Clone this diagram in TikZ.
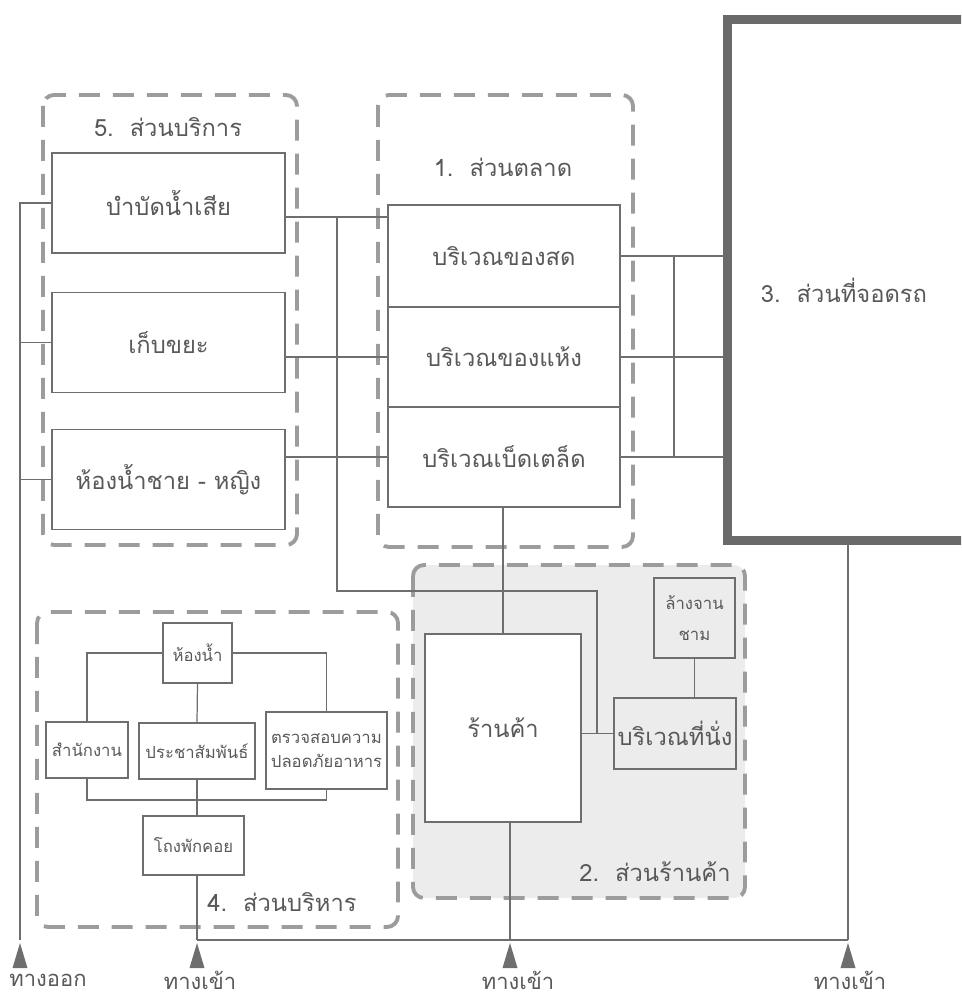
\documentclass[tikz,border=0pt]{standalone}
\usepackage{fontspec}
\usepackage{xcolor}
\usepackage{tikz}
\usetikzlibrary{positioning}
\newfontfamily\thaifont[Script=Thai]{Loma}
\definecolor{linegray}{HTML}{6E6E6E}
\definecolor{dashgray}{HTML}{9C9C9C}
\definecolor{textgray}{HTML}{595959}
\definecolor{parkgray}{HTML}{6A6A6A}
\definecolor{shopfill}{HTML}{ECECEC}

\begin{document}
\begin{tikzpicture}[
    x=0.02cm, y=-0.02cm,
    every node/.style={font=\thaifont, text=textgray},
    zone/.style={draw=dashgray, line width=2.2pt, rounded corners=0.22cm, dash pattern=on 0.42cm off 0.26cm},
    zonetitle/.style={font=\thaifont\fontsize{13.5}{16}\selectfont},
    room/.style={rectangle, draw=linegray, line width=0.7pt, fill=white, minimum width=4.66cm, minimum height=2cm, align=center, inner sep=1pt, font=\thaifont\fontsize{13.5}{16}\selectfont},
    office/.style={rectangle, draw=linegray, line width=0.7pt, align=center, inner sep=1pt, font=\thaifont\fontsize{9.5}{14}\selectfont},
    parkbox/.style={rectangle, draw=parkgray, line width=0.18cm, minimum width=5.42cm, minimum height=10.44cm},
    conn/.style={draw=linegray, line width=0.7pt},
    gate/.style={inner sep=0pt, font=\thaifont\fontsize{12.5}{14}\selectfont},
]
\useasboundingbox (0,0) rectangle (961,1000);
\clip (0,0) rectangle (961,1000);

% 5. service wing
\draw[zone] (43,95) rectangle (297,545);
\node[zonetitle] (svctitle) at (168,127) {5.\ \ ส่วนบริการ};
\node[room] (bambat) at (168.5,203) {บำบัดน้ำเสีย};
\node[room, below=0.76cm of bambat] (kepkhaya) {เก็บขยะ};
\node[room, below=0.72cm of kepkhaya] (hongnamchai) {ห้องน้ำชาย - หญิง};

% 1. market
\draw[zone] (378,95) rectangle (633,547);
\node[zonetitle] (mkttitle) at (503,167) {1.\ \ ส่วนตลาด};
\node[room, minimum width=4.64cm, minimum height=2.04cm, outer sep=0pt] (sot) at (504,256) {บริเวณของสด};
\node[room, minimum width=4.64cm, outer sep=0pt, below=0pt of sot] (haeng) {บริเวณของแห้ง};
\node[room, minimum width=4.64cm, outer sep=0pt, below=0pt of haeng] (betlet) {บริเวณเบ็ดเตล็ด};

% 3. parking, runs off the right edge
\node[parkbox] (parking) at (862.5,280) {};
\node[zonetitle] (parktitle) at (844,290) {3.\ \ ส่วนที่จอดรถ};

% 2. shops
\draw[zone, fill=shopfill] (413,565) rectangle (745,898);
\node[room, minimum width=3.12cm, minimum height=3.76cm] (rankha) at (503,728) {ร้านค้า};
\node[office, fill=shopfill, minimum width=1.62cm, minimum height=1.6cm, font=\thaifont\fontsize{9.5}{18}\selectfont] (langjan) at (694.5,618) {ล้างจาน\\ชาม};
\node[room, fill=shopfill, minimum width=2.44cm, minimum height=1.42cm] (thinang) at (675,733.5) {บริเวณที่นั่ง};
\node[zonetitle] (shoptitle) at (655,872) {2.\ \ ส่วนร้านค้า};

% 4. administration
\draw[zone] (37,612) rectangle (398,927);
\node[office, minimum width=1.38cm, minimum height=1.2cm] (hongnam) at (197.5,653) {ห้องน้ำ};
\node[office, minimum width=1.64cm, minimum height=1.12cm] (samnakngan) at (87,750) {สำนักงาน};
\node[office, minimum width=2.32cm, minimum height=1.12cm] (prachasamphan) at (197,751) {ประชาสัมพันธ์};
\node[office, minimum width=2.42cm, minimum height=1.54cm] (truat) at (326.5,750.5) {ตรวจสอบความ\\ปลอดภัยอาหาร};
\node[office, minimum width=2.02cm, minimum height=1.18cm] (thong) at (193.5,845.5) {โถงพักคอย};
\node[zonetitle] (admintitle) at (282,902) {4.\ \ ส่วนบริหาร};

% gates
\coordinate (exit) at (20,940);
\coordinate (entry1) at (197,940);
\coordinate (entry2) at (510,940);
\coordinate (entry3) at (848,940);
\coordinate (wbus) at (337,217);
\coordinate (sbus) at (597,591);
\coordinate (rbus) at (674,256);
\coordinate (adminbus) at (197,800);

% links
\draw[conn] (bambat.west) -| (exit);
\draw[conn] (kepkhaya.west) -- (kepkhaya.west -| exit);
\draw[conn] (hongnamchai.west) -- (hongnamchai.west -| exit);
\draw[conn] ([yshift=-0.28cm]bambat.east) -- ([yshift=-0.28cm]bambat.east -| sot.west);
\draw[conn] (haeng.west -| kepkhaya.east) -- (haeng.west);
\draw[conn] (betlet.west -| hongnamchai.east) -- (betlet.west);
\draw[conn] (wbus) |- (sbus) -- (sbus |- thinang.west);
\draw[conn] (sot.east) -- (sot.east -| parking.west);
\draw[conn] (haeng.east) -- (haeng.east -| parking.west);
\draw[conn] (betlet.east) -- (betlet.east -| parking.west);
\draw[conn] (rbus) -- (rbus |- betlet.east);
\draw[conn] (rankha.north |- betlet.south) -- (rankha.north);
\draw[conn] (rankha.east |- thinang.west) -- (thinang.west);
\draw[conn] (langjan.south) -- (langjan.south |- thinang.north);
\draw[conn] (hongnam.west) -| (samnakngan.north);
\draw[conn] (hongnam.east) -| (truat.north);
\draw[conn] (hongnam.south) -- (prachasamphan.north);
\draw[conn] (samnakngan.south) |- (adminbus) -| (truat.south);
\draw[conn] (prachasamphan.south) -- (prachasamphan.south |- thong.north);
\draw[conn] (thong.south -| entry1) -- (entry1);
\draw[conn] (rankha.south -| entry2) -- (entry2);
\draw[conn] (parking.south -| entry3) -- (entry3);
\draw[conn] (entry1) -- (entry3);

\foreach \p in {exit,entry1,entry2,entry3}
  \fill[linegray] (\p) ++(0,3) -- ++(-7.5,25) -- ++(15,0) -- cycle;

\node[gate] (exitlbl) at (48,980) {ทางออก};
\node[gate] (entry1lbl) at (200,980) {ทางเข้า};
\node[gate] (entry2lbl) at (518,980) {ทางเข้า};
\node[gate] (entry3lbl) at (850,980) {ทางเข้า};

\end{tikzpicture}
\end{document}
